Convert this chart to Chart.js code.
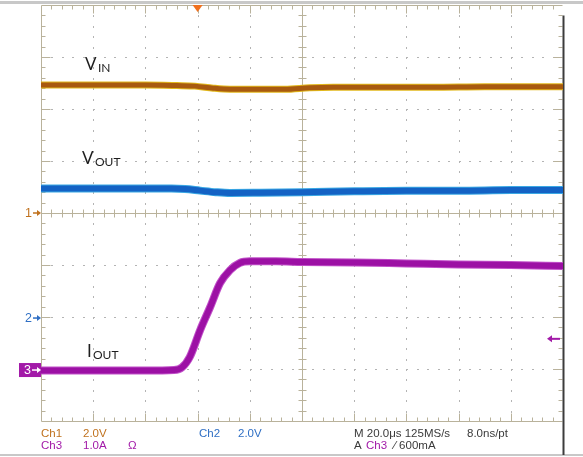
<!DOCTYPE html>
<html>
<head>
<meta charset="utf-8">
<script src="https://cdn.jsdelivr.net/npm/chart.js@4/dist/chart.umd.min.js"></script>
<style>
  html, body { margin: 0; padding: 0; background: #fff; }
  .scope { width: 583px; height: 457px; position: relative; }
</style>
</head>
<body>
<div class="scope"><canvas id="scopeChart"></canvas></div>
<script>
// time in divisions (20us/div), level in divisions (screen units)
const vinTime  = [0, 1, 2, 2.6, 2.95, 3.3, 3.62, 4.2, 4.67, 5.15, 5.6, 6.5, 7.5, 8.5, 10];
const vinLevel = [2.46, 2.46, 2.46, 2.45, 2.44, 2.40, 2.38, 2.38, 2.38, 2.41, 2.42, 2.42, 2.42, 2.43, 2.43];

const voutTime  = [0, 1, 2, 2.5, 2.76, 3.05, 3.35, 3.62, 4.2, 5, 6, 7, 8, 9, 10];
const voutLevel = [0.47, 0.47, 0.47, 0.47, 0.46, 0.43, 0.40, 0.385, 0.39, 0.40, 0.42, 0.43, 0.43, 0.44, 0.44];

const ioutTime  = [0, 1, 2, 2.55, 2.7, 2.85, 3.05, 3.24, 3.43, 3.62, 3.81, 4.0, 4.5, 5, 6, 7, 8, 9, 10];
const ioutLevel = [-3.03, -3.03, -3.03, -3.02, -2.97, -2.77, -2.25, -1.81, -1.35, -1.10, -0.96, -0.93, -0.93, -0.94, -0.95, -0.97, -0.99, -1.00, -1.02];

// channel reference markers (divisions)
const ch1Ground = 0;
const ch2Ground = -2.02;
const ch3Ground = -3.02;
const trigLevel = -2.42;
const trigTime = 3.0;

const statusRow1 = ['Ch1', '2.0V', 'Ch2', '2.0V', 'M 20.0\u03bcs 125MS/s', '8.0ns/pt'];
const statusRow2 = ['Ch3', '1.0A', '\u03a9', 'A', 'Ch3', '\u2215 600mA'];

const ORANGE = '#c0721e';
const BLUE = '#2f6fc4';
const MAGENTA = '#a21aa8';

function pts(xs, ys) { return xs.map((t, i) => ({ x: t, y: ys[i] })); }

const gridPlugin = {
  id: 'scopeGrid',
  beforeDatasetsDraw(chart) {
    const { ctx, chartArea: a, scales: { x, y } } = chart;
    ctx.save();
    // frame bars of the screenshot
    ctx.fillStyle = '#c8c8c8';
    ctx.fillRect(0, 1, 583, 3);
    ctx.fillRect(0, 454, 583, 2);

    // dotted graticule
    ctx.fillStyle = '#b4b4b4';
    for (let i = 1; i < 10; i++) {
      if (i === 5) continue;
      const px = Math.round(x.getPixelForValue(i));
      for (let j = -19; j <= 19; j++) {
        const py = Math.round(y.getPixelForValue(j / 5));
        ctx.fillRect(px, py, 1, 2);
      }
    }
    for (let j = -3; j <= 3; j++) {
      if (j === 0) continue;
      const py = Math.round(y.getPixelForValue(j));
      for (let i = 1; i < 50; i++) {
        const px = Math.round(x.getPixelForValue(i / 5));
        ctx.fillRect(px, py, 2, 1);
      }
    }

    ctx.strokeStyle = '#b9b29b';
    ctx.lineWidth = 1;
    const cx = Math.round(x.getPixelForValue(5)) + 0.5;
    const cy = Math.round(y.getPixelForValue(0)) + 0.5;
    const L = Math.round(a.left) + 0.5, R = Math.round(a.right) - 0.5;
    const T = Math.round(a.top) + 0.5, B = Math.round(a.bottom) + 0.5;
    ctx.beginPath();
    ctx.moveTo(L, T); ctx.lineTo(R, T);
    ctx.moveTo(L, T); ctx.lineTo(L, B);
    ctx.moveTo(L, B); ctx.lineTo(R, B);
    ctx.moveTo(cx, T); ctx.lineTo(cx, B);
    ctx.moveTo(L, cy); ctx.lineTo(R, cy);
    // ticks on horizontal edges and centre line
    for (let i = 1; i < 50; i++) {
      const px = Math.round(x.getPixelForValue(i / 5)) + 0.5;
      const major = i % 5 === 0;
      const len = major ? 8 : 4;
      ctx.moveTo(px, T); ctx.lineTo(px, T + len);
      ctx.moveTo(px, B); ctx.lineTo(px, B - len);
      ctx.moveTo(px, cy - 4); ctx.lineTo(px, cy + 4);
    }
    // ticks on vertical edges and centre line
    for (let j = -19; j <= 19; j++) {
      const py = Math.round(y.getPixelForValue(j / 5)) + 0.5;
      const major = j % 5 === 0;
      const len = major ? 9 : 4;
      ctx.moveTo(L, py); ctx.lineTo(L + len, py);
      ctx.moveTo(R, py); ctx.lineTo(R - len, py);
      ctx.moveTo(cx - 4, py); ctx.lineTo(cx + 4, py);
    }
    ctx.stroke();

    // dark right edge
    ctx.strokeStyle = '#3c3c3c';
    ctx.lineWidth = 2;
    ctx.beginPath();
    ctx.moveTo(R + 1, T + 10); ctx.lineTo(R + 1, 455);
    ctx.stroke();
    ctx.restore();
  }
};

function arrowRight(ctx, x0, x1, yy, color) {
  ctx.strokeStyle = color; ctx.fillStyle = color; ctx.lineWidth = 1.5;
  ctx.beginPath(); ctx.moveTo(x0, yy); ctx.lineTo(x1 - 3, yy); ctx.stroke();
  ctx.beginPath(); ctx.moveTo(x1, yy); ctx.lineTo(x1 - 4, yy - 3); ctx.lineTo(x1 - 4, yy + 3); ctx.closePath(); ctx.fill();
}

const overlayPlugin = {
  id: 'scopeOverlay',
  afterDraw(chart) {
    const { ctx, chartArea: a, scales: { x, y } } = chart;
    ctx.save();
    ctx.textBaseline = 'middle';
    ctx.font = '12.5px "Liberation Sans", Arial, sans-serif';

    // channel 1 marker
    let py = y.getPixelForValue(ch1Ground);
    ctx.fillStyle = ORANGE; ctx.fillText('1', 25, py + 1);
    arrowRight(ctx, 33, a.left, py, ORANGE);
    // channel 2 marker
    py = y.getPixelForValue(ch2Ground);
    ctx.fillStyle = BLUE; ctx.fillText('2', 25, py + 1);
    arrowRight(ctx, 33, a.left, py, BLUE);
    // channel 3 marker box
    py = y.getPixelForValue(ch3Ground);
    ctx.fillStyle = MAGENTA; ctx.fillRect(19, py - 7, 22, 14);
    ctx.fillStyle = '#fff'; ctx.fillText('3', 24, py + 1);
    arrowRight(ctx, 32, a.left, py, '#ffffff');

    // trigger level arrow on the right
    py = y.getPixelForValue(trigLevel);
    ctx.strokeStyle = MAGENTA; ctx.fillStyle = MAGENTA; ctx.lineWidth = 2;
    ctx.beginPath(); ctx.moveTo(560, py); ctx.lineTo(551, py); ctx.stroke();
    ctx.beginPath(); ctx.moveTo(547, py); ctx.lineTo(552, py - 3.5); ctx.lineTo(552, py + 3.5); ctx.closePath(); ctx.fill();

    // trigger position triangle on top
    const tx = x.getPixelForValue(trigTime);
    ctx.fillStyle = '#f0701e';
    ctx.beginPath(); ctx.moveTo(tx - 5, a.top); ctx.lineTo(tx + 5, a.top); ctx.lineTo(tx, a.top + 7); ctx.closePath(); ctx.fill();

    // signal names
    ctx.textBaseline = 'alphabetic';
    ctx.fillStyle = '#1e1e1e';
    const big = '17px Lato, "DejaVu Sans", sans-serif';
    const sub = '12px Lato, "DejaVu Sans", sans-serif';
    ctx.font = big; ctx.fillText('V', 85, 70);
    ctx.font = sub; ctx.fillText('IN', 98, 72);
    ctx.font = big; ctx.fillText('V', 82, 164);
    ctx.font = sub; ctx.fillText('OUT', 95, 166);
    ctx.font = big; ctx.fillText('I', 87, 357);
    ctx.font = sub; ctx.fillText('OUT', 93, 359);

    // status lines
    ctx.font = '11.5px "Liberation Sans", Arial, sans-serif';
    ctx.fillStyle = ORANGE;
    ctx.fillText(statusRow1[0], 41, 437);
    ctx.fillText(statusRow1[1], 83, 437);
    ctx.fillStyle = BLUE;
    ctx.fillText(statusRow1[2], 199, 437);
    ctx.fillText(statusRow1[3], 238, 437);
    ctx.fillStyle = '#3a3a3a';
    ctx.fillText(statusRow1[4], 354, 437);
    ctx.fillText(statusRow1[5], 467, 437);

    ctx.fillStyle = MAGENTA;
    ctx.fillText(statusRow2[0], 41, 449);
    ctx.fillText(statusRow2[1], 83, 449);
    ctx.fillText(statusRow2[2], 128, 449);
    ctx.fillStyle = '#3a3a3a';
    ctx.fillText(statusRow2[3], 354, 449);
    ctx.fillStyle = MAGENTA;
    ctx.fillText(statusRow2[4], 366, 449);
    ctx.fillStyle = '#3a3a3a';
    ctx.fillText(statusRow2[5], 394, 449);
    ctx.restore();
  }
};

// lower index is painted last, so the dark core comes before its halo
new Chart(document.getElementById('scopeChart'), {
  type: 'line',
  data: {
    datasets: [
      { data: pts(vinTime, vinLevel), borderColor: '#a85a10', borderWidth: 5 },
      { data: pts(vinTime, vinLevel), borderColor: '#e2b81c', borderWidth: 7 },
      { data: pts(voutTime, voutLevel), borderColor: '#1462c4', borderWidth: 6 },
      { data: pts(voutTime, voutLevel), borderColor: '#3aa8e4', borderWidth: 8 },
      { data: pts(ioutTime, ioutLevel), borderColor: '#9c10a4', borderWidth: 6 },
      { data: pts(ioutTime, ioutLevel), borderColor: '#c050c8', borderWidth: 8 }
    ]
  },
  options: {
    responsive: true,
    maintainAspectRatio: false,
    animation: false,
    layout: { padding: { left: 41, top: 5, right: 20, bottom: 36 } },
    elements: {
      point: { radius: 0 },
      line: { tension: 0.35, cubicInterpolationMode: 'monotone', borderCapStyle: 'butt' }
    },
    scales: {
      x: { type: 'linear', min: 0, max: 10, display: false },
      y: { type: 'linear', min: -4, max: 4, display: false }
    },
    plugins: { legend: { display: false }, tooltip: { enabled: false } }
  },
  plugins: [gridPlugin, overlayPlugin]
});
</script>
</body>
</html>
